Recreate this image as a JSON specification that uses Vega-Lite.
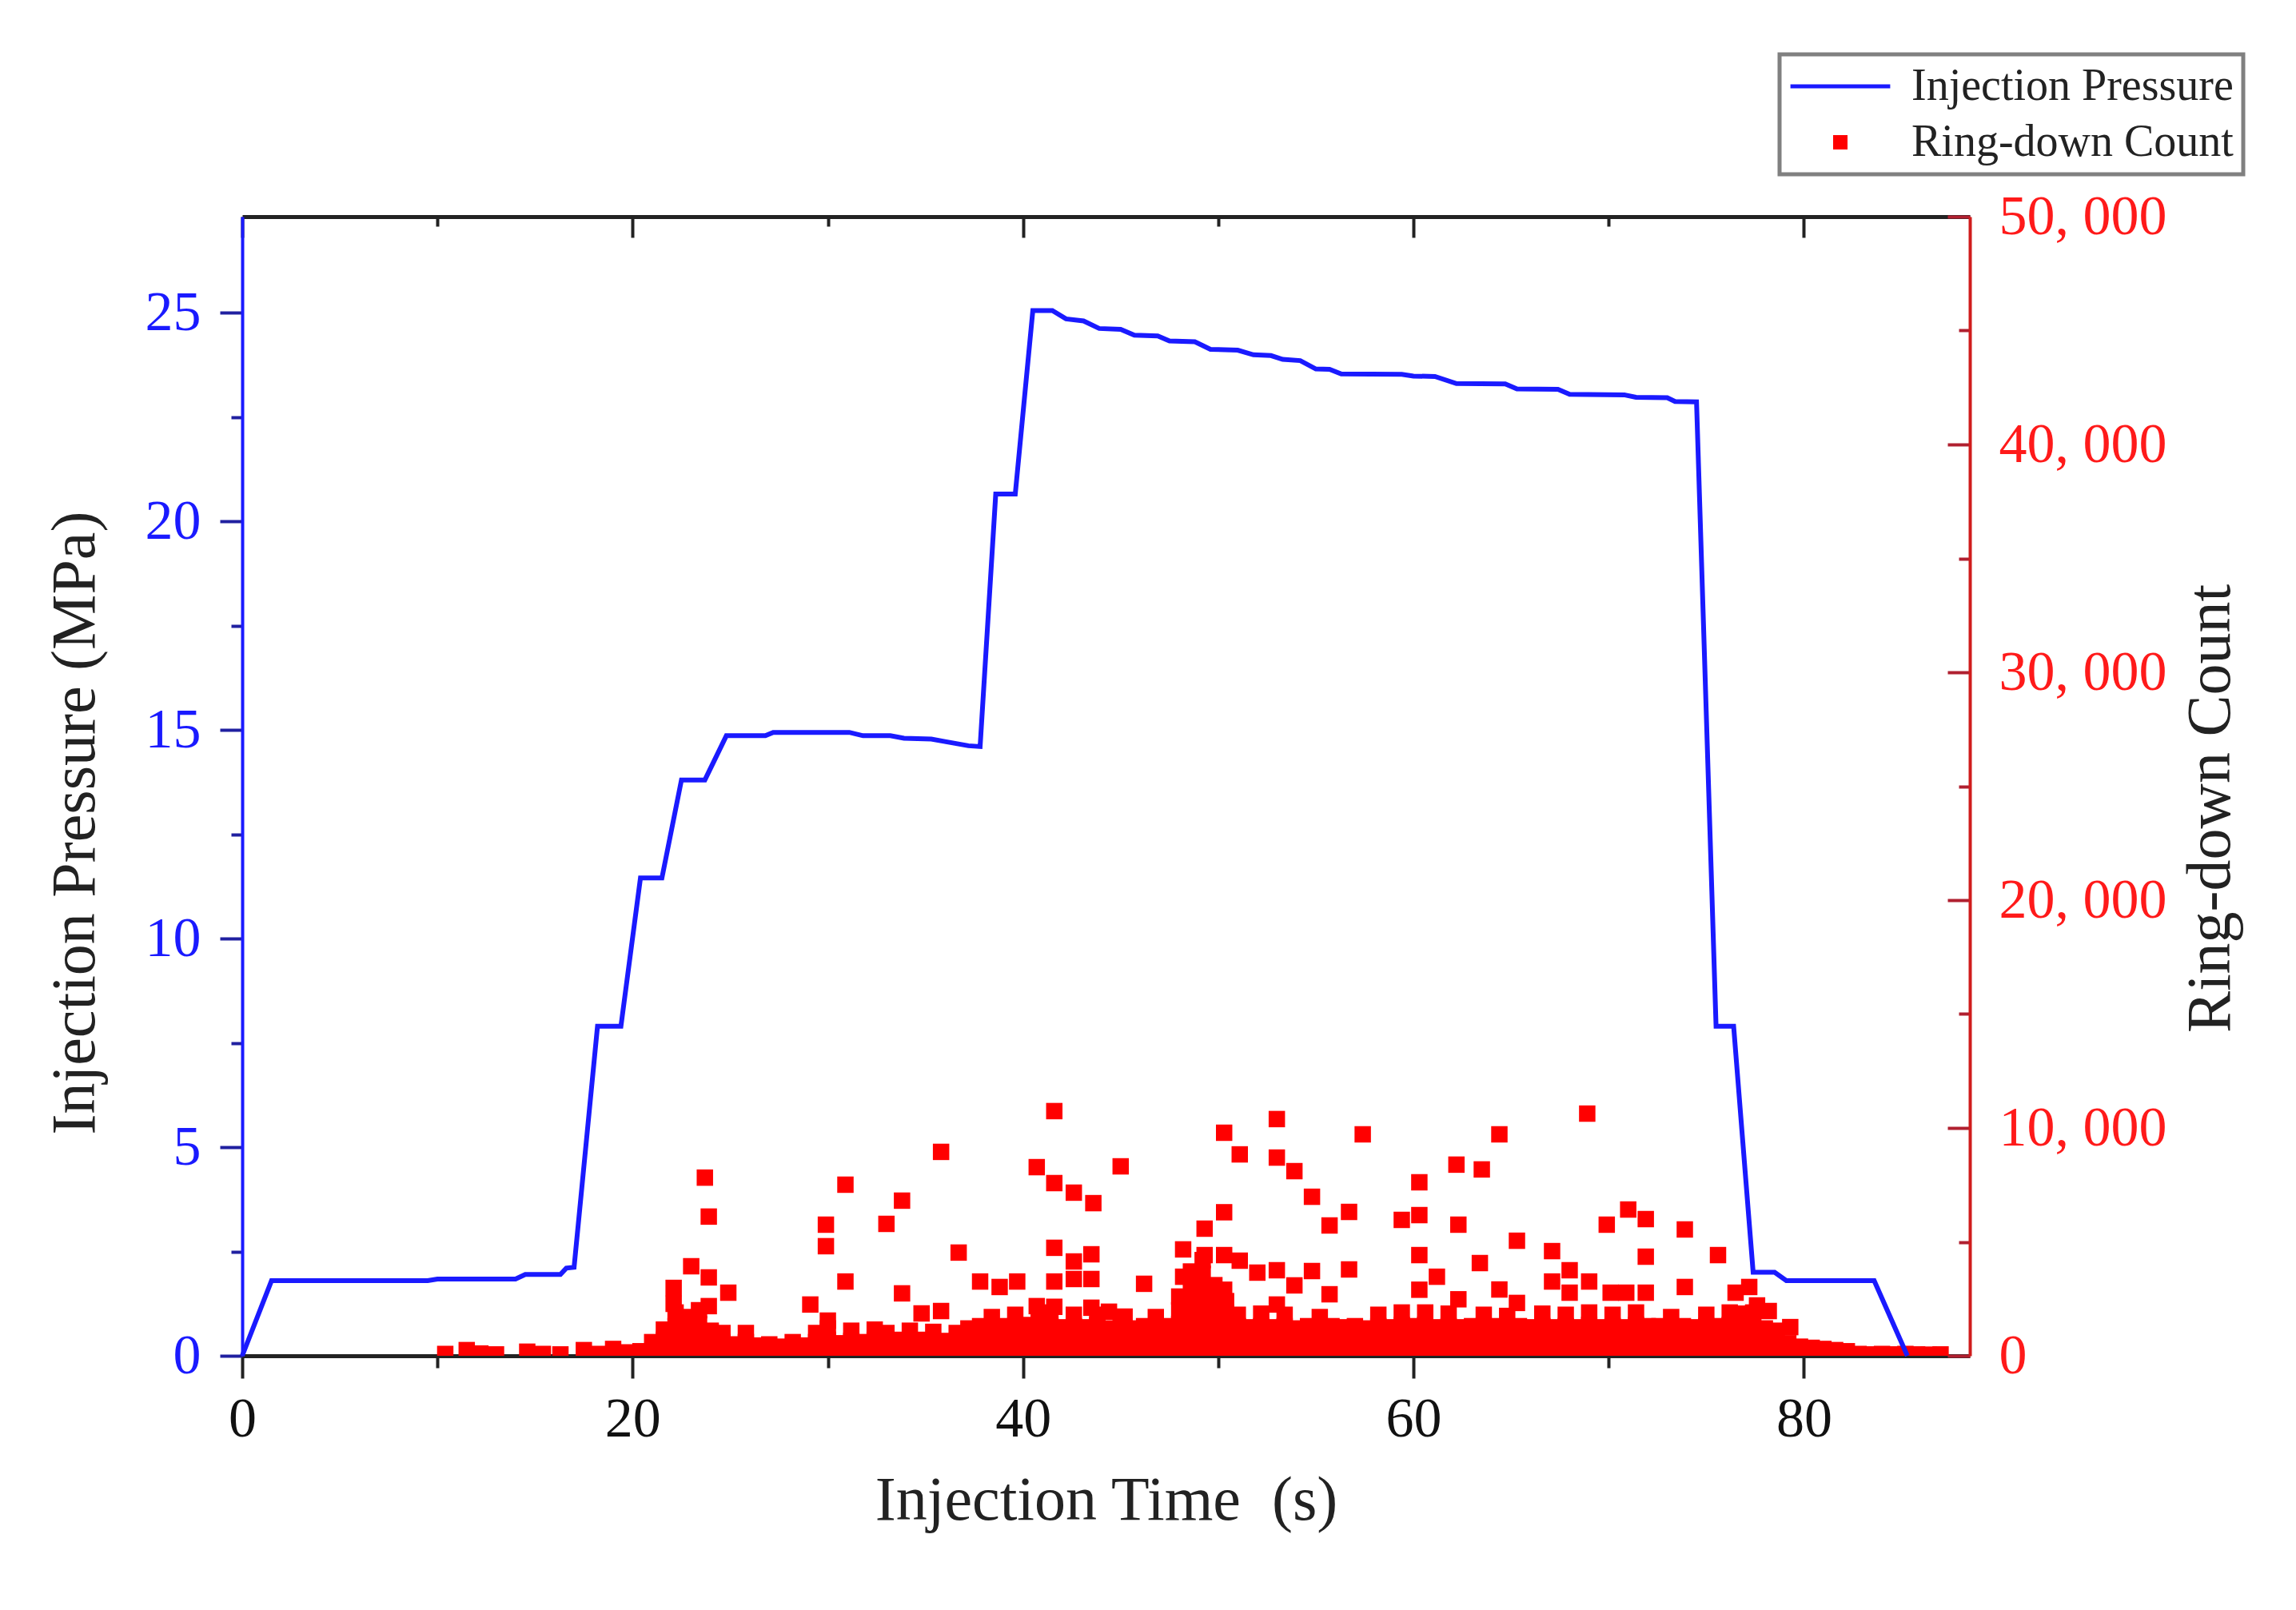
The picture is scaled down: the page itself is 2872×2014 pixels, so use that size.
{
  "$schema": "https://vega.github.io/schema/vega-lite/v6.json",
  "autosize": "none",
  "padding": {"left": 303, "top": 271, "right": 408, "bottom": 318},
  "width": 2161,
  "height": 1425,
  "background": "white",
  "config": {
    "view": {"stroke": null},
    "font": "Liberation Serif",
    "axis": {"grid": false, "zindex": 1, "labelFlush": false, "labelFont": "Liberation Serif", "titleFont": "Liberation Serif", "labelLimit": 0},
    "legend": {"strokeWidth": 5}
  },
  "datasets": {
    "pressure": [
      {"t": 0, "p": 0}, {"t": 1.5, "p": 1.8}, {"t": 9.5, "p": 1.8}, {"t": 10.0, "p": 1.84}, {"t": 14.0, "p": 1.84},
      {"t": 14.5, "p": 1.95}, {"t": 16.3, "p": 1.95}, {"t": 16.6, "p": 2.1}, {"t": 17.0, "p": 2.12}, {"t": 18.2, "p": 7.9},
      {"t": 19.4, "p": 7.9}, {"t": 20.4, "p": 11.45}, {"t": 21.5, "p": 11.45}, {"t": 22.5, "p": 13.8}, {"t": 23.7, "p": 13.8},
      {"t": 24.8, "p": 14.86}, {"t": 26.8, "p": 14.86}, {"t": 27.2, "p": 14.94}, {"t": 31.1, "p": 14.94}, {"t": 31.8, "p": 14.86},
      {"t": 33.2, "p": 14.86}, {"t": 33.9, "p": 14.8}, {"t": 35.3, "p": 14.78}, {"t": 36.0, "p": 14.72}, {"t": 37.2, "p": 14.62},
      {"t": 37.8, "p": 14.6}, {"t": 38.6, "p": 20.65}, {"t": 39.6, "p": 20.65}, {"t": 40.5, "p": 25.05}, {"t": 41.5, "p": 25.05},
      {"t": 42.2, "p": 24.85}, {"t": 43.1, "p": 24.8}, {"t": 43.9, "p": 24.62}, {"t": 45.0, "p": 24.6}, {"t": 45.7, "p": 24.46},
      {"t": 46.9, "p": 24.44}, {"t": 47.5, "p": 24.32}, {"t": 48.8, "p": 24.3}, {"t": 49.6, "p": 24.12}, {"t": 51.0, "p": 24.1},
      {"t": 51.8, "p": 23.99}, {"t": 52.7, "p": 23.97}, {"t": 53.3, "p": 23.88}, {"t": 54.2, "p": 23.85}, {"t": 55.0, "p": 23.65},
      {"t": 55.7, "p": 23.64}, {"t": 56.3, "p": 23.53}, {"t": 59.4, "p": 23.52}, {"t": 60.0, "p": 23.48}, {"t": 61.1, "p": 23.47},
      {"t": 62.2, "p": 23.3}, {"t": 64.7, "p": 23.29}, {"t": 65.3, "p": 23.17}, {"t": 67.4, "p": 23.16}, {"t": 68.0, "p": 23.04},
      {"t": 70.8, "p": 23.03}, {"t": 71.4, "p": 22.97}, {"t": 73.0, "p": 22.96}, {"t": 73.4, "p": 22.87}, {"t": 74.5, "p": 22.86},
      {"t": 75.5, "p": 7.9}, {"t": 76.4, "p": 7.9}, {"t": 77.4, "p": 2.0}, {"t": 78.5, "p": 2.0}, {"t": 79.1, "p": 1.8},
      {"t": 83.6, "p": 1.8}, {"t": 85.3, "p": 0}
    ],
    "counts": [
      {"t": 10.4, "c": 80}, {"t": 11.5, "c": 250}, {"t": 12.2, "c": 100}, {"t": 13.0, "c": 60}, {"t": 14.6, "c": 180},
      {"t": 15.4, "c": 80}, {"t": 16.3, "c": 60}, {"t": 17.5, "c": 250}, {"t": 18.3, "c": 80}, {"t": 19.0, "c": 300},
      {"t": 19.8, "c": 150}, {"t": 20.4, "c": 200},
      {"t": 21.0, "c": 150}, {"t": 21.0, "c": 600},
      {"t": 21.6, "c": 200}, {"t": 21.6, "c": 700}, {"t": 21.6, "c": 1150},
      {"t": 22.2, "c": 250}, {"t": 22.2, "c": 750}, {"t": 22.2, "c": 1300}, {"t": 22.2, "c": 1900},
      {"t": 22.8, "c": 200}, {"t": 22.8, "c": 700}, {"t": 22.8, "c": 1200}, {"t": 22.8, "c": 1700},
      {"t": 23.4, "c": 300}, {"t": 23.4, "c": 800}, {"t": 23.4, "c": 1400}, {"t": 23.4, "c": 2000},
      {"t": 24.0, "c": 200}, {"t": 24.0, "c": 700}, {"t": 24.0, "c": 1100},
      {"t": 24.6, "c": 150}, {"t": 24.6, "c": 600}, {"t": 24.6, "c": 1000},
      {"t": 25.2, "c": 100}, {"t": 25.2, "c": 500},
      {"t": 25.8, "c": 150}, {"t": 25.8, "c": 600}, {"t": 25.8, "c": 1000},
      {"t": 26.4, "c": 100}, {"t": 26.4, "c": 450},
      {"t": 27.0, "c": 150}, {"t": 27.0, "c": 500},
      {"t": 27.6, "c": 100}, {"t": 27.6, "c": 400},
      {"t": 28.2, "c": 150}, {"t": 28.2, "c": 600},
      {"t": 28.8, "c": 100}, {"t": 28.8, "c": 450},
      {"t": 29.4, "c": 150}, {"t": 29.4, "c": 600}, {"t": 29.4, "c": 1000},
      {"t": 30.0, "c": 200}, {"t": 30.0, "c": 700}, {"t": 30.0, "c": 1200},
      {"t": 30.6, "c": 150}, {"t": 30.6, "c": 550},
      {"t": 31.2, "c": 200}, {"t": 31.2, "c": 650}, {"t": 31.2, "c": 1100},
      {"t": 31.8, "c": 150}, {"t": 31.8, "c": 600},
      {"t": 32.4, "c": 200}, {"t": 32.4, "c": 700}, {"t": 32.4, "c": 1150},
      {"t": 33.0, "c": 150}, {"t": 33.0, "c": 600}, {"t": 33.0, "c": 1000},
      {"t": 33.6, "c": 200}, {"t": 33.6, "c": 700},
      {"t": 34.2, "c": 150}, {"t": 34.2, "c": 650}, {"t": 34.2, "c": 1100},
      {"t": 34.8, "c": 200}, {"t": 34.8, "c": 700},
      {"t": 35.4, "c": 150}, {"t": 35.4, "c": 600}, {"t": 35.4, "c": 1050},
      {"t": 36.0, "c": 200}, {"t": 36.0, "c": 650},
      {"t": 36.6, "c": 150}, {"t": 36.6, "c": 600}, {"t": 36.6, "c": 1000},
      {"t": 37.2, "c": 200}, {"t": 37.2, "c": 700}, {"t": 37.2, "c": 1200},
      {"t": 37.8, "c": 250}, {"t": 37.8, "c": 750}, {"t": 37.8, "c": 1300},
      {"t": 38.4, "c": 200}, {"t": 38.4, "c": 700}, {"t": 38.4, "c": 1250}, {"t": 38.4, "c": 1700},
      {"t": 39.0, "c": 250}, {"t": 39.0, "c": 800}, {"t": 39.0, "c": 1300},
      {"t": 39.6, "c": 200}, {"t": 39.6, "c": 750}, {"t": 39.6, "c": 1300}, {"t": 39.6, "c": 1800},
      {"t": 40.2, "c": 250}, {"t": 40.2, "c": 800}, {"t": 40.2, "c": 1350},
      {"t": 40.8, "c": 200}, {"t": 40.8, "c": 700}, {"t": 40.8, "c": 1200}, {"t": 40.8, "c": 1700},
      {"t": 41.4, "c": 250}, {"t": 41.4, "c": 800}, {"t": 41.4, "c": 1300}, {"t": 41.4, "c": 1900},
      {"t": 42.0, "c": 200}, {"t": 42.0, "c": 750}, {"t": 42.0, "c": 1250},
      {"t": 42.6, "c": 250}, {"t": 42.6, "c": 800}, {"t": 42.6, "c": 1300}, {"t": 42.6, "c": 1800},
      {"t": 43.2, "c": 200}, {"t": 43.2, "c": 700}, {"t": 43.2, "c": 1250},
      {"t": 43.8, "c": 250}, {"t": 43.8, "c": 800}, {"t": 43.8, "c": 1350}, {"t": 43.8, "c": 1800},
      {"t": 44.4, "c": 200}, {"t": 44.4, "c": 700}, {"t": 44.4, "c": 1200},
      {"t": 45.0, "c": 250}, {"t": 45.0, "c": 750}, {"t": 45.0, "c": 1300},
      {"t": 45.6, "c": 200}, {"t": 45.6, "c": 700}, {"t": 45.6, "c": 1200},
      {"t": 46.2, "c": 250}, {"t": 46.2, "c": 800}, {"t": 46.2, "c": 1300},
      {"t": 46.8, "c": 200}, {"t": 46.8, "c": 700}, {"t": 46.8, "c": 1200}, {"t": 46.8, "c": 1700},
      {"t": 47.4, "c": 250}, {"t": 47.4, "c": 800}, {"t": 47.4, "c": 1300},
      {"t": 48.0, "c": 300}, {"t": 48.0, "c": 850}, {"t": 48.0, "c": 1400}, {"t": 48.0, "c": 2000}, {"t": 48.0, "c": 2600},
      {"t": 48.6, "c": 300}, {"t": 48.6, "c": 850}, {"t": 48.6, "c": 1400}, {"t": 48.6, "c": 1950}, {"t": 48.6, "c": 2500}, {"t": 48.6, "c": 3100}, {"t": 48.6, "c": 3700},
      {"t": 49.2, "c": 300}, {"t": 49.2, "c": 850}, {"t": 49.2, "c": 1400}, {"t": 49.2, "c": 1950}, {"t": 49.2, "c": 2500}, {"t": 49.2, "c": 3050}, {"t": 49.2, "c": 3600}, {"t": 49.2, "c": 4200},
      {"t": 49.8, "c": 300}, {"t": 49.8, "c": 850}, {"t": 49.8, "c": 1400}, {"t": 49.8, "c": 1950}, {"t": 49.8, "c": 2500}, {"t": 49.8, "c": 3100},
      {"t": 50.4, "c": 250}, {"t": 50.4, "c": 800}, {"t": 50.4, "c": 1350}, {"t": 50.4, "c": 1900}, {"t": 50.4, "c": 2400},
      {"t": 51.0, "c": 250}, {"t": 51.0, "c": 800}, {"t": 51.0, "c": 1300}, {"t": 51.0, "c": 1800},
      {"t": 51.6, "c": 200}, {"t": 51.6, "c": 750}, {"t": 51.6, "c": 1250},
      {"t": 52.2, "c": 250}, {"t": 52.2, "c": 800}, {"t": 52.2, "c": 1300}, {"t": 52.2, "c": 1850},
      {"t": 52.8, "c": 200}, {"t": 52.8, "c": 750}, {"t": 52.8, "c": 1250},
      {"t": 53.4, "c": 250}, {"t": 53.4, "c": 800}, {"t": 53.4, "c": 1300}, {"t": 53.4, "c": 1800},
      {"t": 54.0, "c": 200}, {"t": 54.0, "c": 700}, {"t": 54.0, "c": 1200},
      {"t": 54.6, "c": 250}, {"t": 54.6, "c": 800}, {"t": 54.6, "c": 1300},
      {"t": 55.2, "c": 200}, {"t": 55.2, "c": 700}, {"t": 55.2, "c": 1200}, {"t": 55.2, "c": 1700},
      {"t": 55.8, "c": 250}, {"t": 55.8, "c": 800}, {"t": 55.8, "c": 1300},
      {"t": 56.4, "c": 200}, {"t": 56.4, "c": 750}, {"t": 56.4, "c": 1250},
      {"t": 57.0, "c": 250}, {"t": 57.0, "c": 800}, {"t": 57.0, "c": 1300},
      {"t": 57.6, "c": 200}, {"t": 57.6, "c": 700}, {"t": 57.6, "c": 1200},
      {"t": 58.2, "c": 250}, {"t": 58.2, "c": 800}, {"t": 58.2, "c": 1300}, {"t": 58.2, "c": 1800},
      {"t": 58.8, "c": 200}, {"t": 58.8, "c": 750}, {"t": 58.8, "c": 1250},
      {"t": 59.4, "c": 250}, {"t": 59.4, "c": 800}, {"t": 59.4, "c": 1350}, {"t": 59.4, "c": 1900},
      {"t": 60.0, "c": 200}, {"t": 60.0, "c": 750}, {"t": 60.0, "c": 1300},
      {"t": 60.6, "c": 250}, {"t": 60.6, "c": 800}, {"t": 60.6, "c": 1350}, {"t": 60.6, "c": 1900},
      {"t": 61.2, "c": 200}, {"t": 61.2, "c": 750}, {"t": 61.2, "c": 1250},
      {"t": 61.8, "c": 250}, {"t": 61.8, "c": 800}, {"t": 61.8, "c": 1300}, {"t": 61.8, "c": 1850},
      {"t": 62.4, "c": 200}, {"t": 62.4, "c": 700}, {"t": 62.4, "c": 1250},
      {"t": 63.0, "c": 250}, {"t": 63.0, "c": 800}, {"t": 63.0, "c": 1300},
      {"t": 63.6, "c": 200}, {"t": 63.6, "c": 750}, {"t": 63.6, "c": 1300}, {"t": 63.6, "c": 1800},
      {"t": 64.2, "c": 250}, {"t": 64.2, "c": 800}, {"t": 64.2, "c": 1300},
      {"t": 64.8, "c": 200}, {"t": 64.8, "c": 750}, {"t": 64.8, "c": 1250}, {"t": 64.8, "c": 1750},
      {"t": 65.4, "c": 250}, {"t": 65.4, "c": 800}, {"t": 65.4, "c": 1300},
      {"t": 66.0, "c": 200}, {"t": 66.0, "c": 750}, {"t": 66.0, "c": 1250},
      {"t": 66.6, "c": 250}, {"t": 66.6, "c": 800}, {"t": 66.6, "c": 1300}, {"t": 66.6, "c": 1850},
      {"t": 67.2, "c": 200}, {"t": 67.2, "c": 750}, {"t": 67.2, "c": 1250},
      {"t": 67.8, "c": 250}, {"t": 67.8, "c": 800}, {"t": 67.8, "c": 1300}, {"t": 67.8, "c": 1800},
      {"t": 68.4, "c": 200}, {"t": 68.4, "c": 750}, {"t": 68.4, "c": 1250},
      {"t": 69.0, "c": 250}, {"t": 69.0, "c": 800}, {"t": 69.0, "c": 1350}, {"t": 69.0, "c": 1900},
      {"t": 69.6, "c": 200}, {"t": 69.6, "c": 750}, {"t": 69.6, "c": 1250},
      {"t": 70.2, "c": 250}, {"t": 70.2, "c": 800}, {"t": 70.2, "c": 1300}, {"t": 70.2, "c": 1800},
      {"t": 70.8, "c": 200}, {"t": 70.8, "c": 750}, {"t": 70.8, "c": 1250},
      {"t": 71.4, "c": 250}, {"t": 71.4, "c": 800}, {"t": 71.4, "c": 1350}, {"t": 71.4, "c": 1900},
      {"t": 72.0, "c": 200}, {"t": 72.0, "c": 750}, {"t": 72.0, "c": 1300},
      {"t": 72.6, "c": 250}, {"t": 72.6, "c": 800}, {"t": 72.6, "c": 1300},
      {"t": 73.2, "c": 200}, {"t": 73.2, "c": 700}, {"t": 73.2, "c": 1200}, {"t": 73.2, "c": 1700},
      {"t": 73.8, "c": 250}, {"t": 73.8, "c": 800}, {"t": 73.8, "c": 1300},
      {"t": 74.4, "c": 200}, {"t": 74.4, "c": 750}, {"t": 74.4, "c": 1250},
      {"t": 75.0, "c": 250}, {"t": 75.0, "c": 800}, {"t": 75.0, "c": 1300}, {"t": 75.0, "c": 1800},
      {"t": 75.6, "c": 200}, {"t": 75.6, "c": 750}, {"t": 75.6, "c": 1300},
      {"t": 76.2, "c": 250}, {"t": 76.2, "c": 800}, {"t": 76.2, "c": 1350}, {"t": 76.2, "c": 1900},
      {"t": 76.8, "c": 200}, {"t": 76.8, "c": 750}, {"t": 76.8, "c": 1300}, {"t": 76.8, "c": 1850},
      {"t": 77.4, "c": 250}, {"t": 77.4, "c": 800}, {"t": 77.4, "c": 1350}, {"t": 77.4, "c": 1900},
      {"t": 78.0, "c": 200}, {"t": 78.0, "c": 700}, {"t": 78.0, "c": 1200},
      {"t": 78.6, "c": 150}, {"t": 78.6, "c": 600}, {"t": 78.6, "c": 1100},
      {"t": 79.2, "c": 150}, {"t": 79.2, "c": 550},
      {"t": 79.8, "c": 100}, {"t": 79.8, "c": 400},
      {"t": 80.4, "c": 100}, {"t": 80.4, "c": 350},
      {"t": 81.0, "c": 80}, {"t": 81.0, "c": 300},
      {"t": 81.6, "c": 100}, {"t": 81.6, "c": 250},
      {"t": 82.2, "c": 60}, {"t": 82.2, "c": 200},
      {"t": 82.8, "c": 80}, {"t": 83.4, "c": 60}, {"t": 84.0, "c": 80}, {"t": 84.6, "c": 60},
      {"t": 85.2, "c": 80}, {"t": 85.8, "c": 60}, {"t": 86.4, "c": 50}, {"t": 87.0, "c": 60},
      {"t": 23.7, "c": 7820}, {"t": 23.9, "c": 6110}, {"t": 23.0, "c": 3930}, {"t": 23.9, "c": 3440},
      {"t": 22.1, "c": 2980}, {"t": 24.9, "c": 2770}, {"t": 22.1, "c": 2280}, {"t": 23.9, "c": 2180},
      {"t": 30.9, "c": 7510}, {"t": 29.9, "c": 5755}, {"t": 29.9, "c": 4810}, {"t": 30.9, "c": 3260},
      {"t": 29.1, "c": 2250}, {"t": 30.0, "c": 1545}, {"t": 33.0, "c": 5790}, {"t": 33.8, "c": 6810},
      {"t": 33.8, "c": 2740}, {"t": 34.8, "c": 1860}, {"t": 35.8, "c": 8950}, {"t": 35.8, "c": 1965},
      {"t": 36.7, "c": 4530}, {"t": 37.8, "c": 3260}, {"t": 38.8, "c": 3020}, {"t": 39.7, "c": 3260},
      {"t": 40.7, "c": 8280}, {"t": 40.7, "c": 2180}, {"t": 41.6, "c": 10740}, {"t": 41.6, "c": 7580},
      {"t": 41.6, "c": 4740}, {"t": 41.6, "c": 3260}, {"t": 41.6, "c": 2150}, {"t": 42.6, "c": 7160},
      {"t": 42.6, "c": 4140}, {"t": 42.6, "c": 3370}, {"t": 43.6, "c": 6700}, {"t": 43.5, "c": 4455},
      {"t": 43.5, "c": 3370}, {"t": 43.5, "c": 2110}, {"t": 44.4, "c": 1935}, {"t": 45.0, "c": 8315},
      {"t": 45.2, "c": 1720}, {"t": 46.2, "c": 3160}, {"t": 48.2, "c": 4670}, {"t": 48.2, "c": 3470},
      {"t": 49.3, "c": 5580}, {"t": 49.3, "c": 4420}, {"t": 50.3, "c": 9790}, {"t": 50.3, "c": 6300},
      {"t": 50.3, "c": 4420}, {"t": 50.3, "c": 2900}, {"t": 51.1, "c": 8840}, {"t": 51.1, "c": 4175},
      {"t": 52.0, "c": 3650}, {"t": 53.0, "c": 10390}, {"t": 53.0, "c": 8700}, {"t": 53.0, "c": 3755},
      {"t": 53.0, "c": 2250}, {"t": 53.9, "c": 8105}, {"t": 53.9, "c": 3090}, {"t": 54.8, "c": 6980},
      {"t": 54.8, "c": 3720}, {"t": 55.7, "c": 5720}, {"t": 55.7, "c": 2700}, {"t": 56.7, "c": 6315},
      {"t": 56.7, "c": 3790}, {"t": 57.4, "c": 9720}, {"t": 59.4, "c": 5965}, {"t": 60.3, "c": 7615},
      {"t": 60.3, "c": 6175}, {"t": 60.3, "c": 4420}, {"t": 60.3, "c": 2900}, {"t": 61.2, "c": 3470},
      {"t": 62.2, "c": 8390}, {"t": 62.3, "c": 5755}, {"t": 62.3, "c": 2480}, {"t": 63.4, "c": 4070},
      {"t": 63.5, "c": 8180}, {"t": 64.4, "c": 9720}, {"t": 64.4, "c": 2910}, {"t": 65.3, "c": 5050},
      {"t": 65.3, "c": 2320}, {"t": 67.1, "c": 4595}, {"t": 67.1, "c": 3260}, {"t": 68.0, "c": 3755},
      {"t": 68.0, "c": 2770}, {"t": 68.9, "c": 10630}, {"t": 69.0, "c": 3260}, {"t": 69.9, "c": 5755},
      {"t": 70.1, "c": 2770}, {"t": 70.9, "c": 2770}, {"t": 71.0, "c": 6420}, {"t": 71.9, "c": 6000},
      {"t": 71.9, "c": 4350}, {"t": 71.9, "c": 2770}, {"t": 73.9, "c": 5545}, {"t": 73.9, "c": 3020},
      {"t": 75.6, "c": 4420}, {"t": 76.5, "c": 2770}, {"t": 77.2, "c": 3020}, {"t": 77.6, "c": 2210},
      {"t": 78.2, "c": 1965}, {"t": 79.3, "c": 1260}
    ]
  },
  "layer": [
    {
      "data": {"name": "counts"},
      "mark": {"type": "point", "size": 420, "opacity": 1, "filled": true, "clip": true},
      "encoding": {
        "x": {
          "field": "t",
          "type": "quantitative",
          "scale": {"domain": [0, 88.5], "nice": false, "zero": false},
          "axis": {
            "orient": "bottom",
            "values": [0, 10, 20, 30, 40, 50, 60, 70, 80],
            "labelExpr": "datum.value % 20 === 0 ? datum.label : ''",
            "tickSize": {"condition": {"test": "datum.value % 20 === 0", "value": 28}, "value": 15},
            "tickWidth": 4,
            "tickColor": "#222222",
            "domainColor": "#222222",
            "domainWidth": 5,
            "labelFontSize": 70,
            "labelColor": "#111111",
            "labelPadding": 17,
            "title": "Injection Time\u00a0 (s)",
            "titleFontSize": 78,
            "titleFontWeight": "normal",
            "titleColor": "#222222",
            "titlePadding": 28
          }
        },
        "y": {
          "field": "c",
          "type": "quantitative",
          "scale": {"domain": [0, 50000], "nice": false},
          "axis": {
            "orient": "right",
            "values": [0, 5000, 10000, 15000, 20000, 25000, 30000, 35000, 40000, 45000, 50000],
            "labelExpr": "datum.value % 10000 !== 0 ? '' : (datum.value === 0 ? '0' : (datum.value / 1000) + ', 000')",
            "tickSize": {"condition": {"test": "datum.value % 10000 === 0", "value": -28}, "value": -14},
            "tickWidth": 4,
            "tickColor": "#b02030",
            "domainColor": "#d01c1c",
            "domainWidth": 4,
            "labelColor": "#ff1a1a",
            "labelFontSize": 70,
            "labelPadding": 64,
            "title": "Ring-down Count",
            "titleColor": "#222222",
            "titleFontSize": 78,
            "titleFontWeight": "normal",
            "titleAngle": 270,
            "titleBaseline": "top",
            "titlePadding": 62,
            "titleY": 740
          }
        },
        "color": {
          "datum": "Ring-down Count",
          "type": "nominal",
          "scale": {"domain": ["Injection Pressure", "Ring-down Count"], "range": ["#1a1aff", "#ff0000"]},
          "legend": {
            "orient": "none",
            "legendX": 1923,
            "legendY": -203,
            "title": null,
            "strokeColor": "#808080",
            "padding": 12,
            "labelFont": "Liberation Serif",
            "labelFontSize": 56,
            "labelColor": "#222222",
            "labelLimit": 0,
            "rowPadding": 14,
            "labelOffset": 61,
            "symbolSize": 169,
            "symbolOffset": 36,
            "symbolStrokeWidth": 5
          }
        },
        "shape": {
          "datum": "Ring-down Count",
          "type": "nominal",
          "scale": {"domain": ["Injection Pressure", "Ring-down Count"], "range": ["M-9.6,0H9.6", "square"]},
          "legend": {
            "orient": "none",
            "legendX": 1923,
            "legendY": -203,
            "title": null,
            "strokeColor": "#808080",
            "padding": 12,
            "labelFont": "Liberation Serif",
            "labelFontSize": 56,
            "labelColor": "#222222",
            "labelLimit": 0,
            "rowPadding": 14,
            "labelOffset": 61,
            "symbolSize": 169,
            "symbolOffset": 36,
            "symbolStrokeWidth": 5
          }
        }
      }
    },
    {
      "data": {"name": "pressure"},
      "mark": {"type": "line", "strokeWidth": 6},
      "encoding": {
        "x": {
          "field": "t",
          "type": "quantitative",
          "axis": {
            "orient": "top",
            "values": [0, 10, 20, 30, 40, 50, 60, 70, 80],
            "labels": false,
            "tickSize": {"condition": {"test": "datum.value % 20 === 0", "value": -26}, "value": -12},
            "tickWidth": 4,
            "tickColor": "#222222",
            "domainColor": "#222222",
            "domainWidth": 5,
            "title": null
          }
        },
        "y": {
          "field": "p",
          "type": "quantitative",
          "scale": {"domain": [0, 27.3], "nice": false},
          "axis": {
            "orient": "left",
            "values": [0, 2.5, 5, 7.5, 10, 12.5, 15, 17.5, 20, 22.5, 25],
            "labelExpr": "datum.value % 5 === 0 ? datum.label : ''",
            "tickSize": {"condition": {"test": "datum.value % 5 === 0", "value": 28}, "value": 14},
            "tickWidth": 4,
            "tickColor": "#2020a0",
            "domainColor": "#1a1aff",
            "domainWidth": 4,
            "labelColor": "#1a1aff",
            "labelFontSize": 70,
            "labelPadding": 24,
            "title": "Injection Pressure (MPa)",
            "titleColor": "#222222",
            "titleFontSize": 78,
            "titleFontWeight": "normal",
            "titlePadding": 48,
            "titleY": 758
          }
        },
        "color": {"datum": "Injection Pressure", "type": "nominal"}
      }
    }
  ],
  "resolve": {"scale": {"y": "independent"}, "axis": {"x": "independent"}}
}
